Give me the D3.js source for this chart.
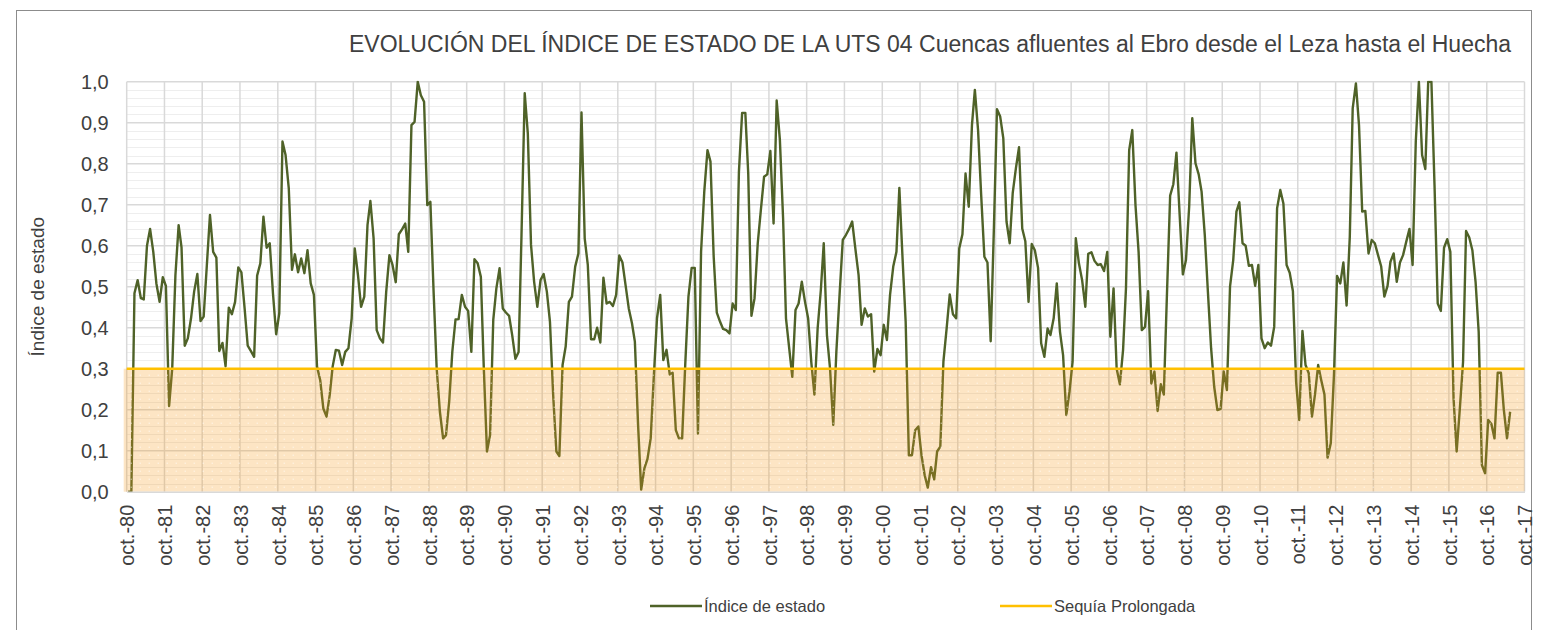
<!DOCTYPE html>
<html lang="es">
<head>
<meta charset="utf-8">
<title>Índice de estado UTS 04</title>
<script src="https://cdn.jsdelivr.net/npm/d3@7"></script>
<style>
  html, body { margin: 0; padding: 0; background: #fff; }
  svg { display: block; font-family: "Liberation Sans", Arial, sans-serif; }
</style>
</head>
<body>
<svg id="chart" width="1548" height="630"></svg>
<script>
(function () {
  'use strict';

  // --- datos -------------------------------------------------------------
  var titulo = 'EVOLUCIÓN DEL ÍNDICE DE ESTADO DE LA UTS 04 Cuencas afluentes al Ebro desde el Leza hasta el Huecha';
  var tituloEjeY = 'Índice de estado';
  var leyenda = ['Índice de estado', 'Sequía Prolongada'];

  var etiquetasX = [
    'oct.-80', 'oct.-81', 'oct.-82', 'oct.-83', 'oct.-84', 'oct.-85', 'oct.-86', 'oct.-87',
    'oct.-88', 'oct.-89', 'oct.-90', 'oct.-91', 'oct.-92', 'oct.-93', 'oct.-94', 'oct.-95',
    'oct.-96', 'oct.-97', 'oct.-98', 'oct.-99', 'oct.-00', 'oct.-01', 'oct.-02', 'oct.-03',
    'oct.-04', 'oct.-05', 'oct.-06', 'oct.-07', 'oct.-08', 'oct.-09', 'oct.-10', 'oct.-11',
    'oct.-12', 'oct.-13', 'oct.-14', 'oct.-15', 'oct.-16', 'oct.-17'
  ];
  var ticksY = [0, 0.1, 0.2, 0.3, 0.4, 0.5, 0.6, 0.7, 0.8, 0.9, 1.0];
  var umbralSequia = 0.3;

  // valores mensuales desde oct-1980
  var indiceEstado = [
    0, 0, 0.484, 0.516, 0.472, 0.469, 0.60, 0.641, 0.585, 0.508, 0.463, 0.523,
    0.502, 0.209, 0.30, 0.528, 0.650, 0.596, 0.356, 0.374, 0.423, 0.488, 0.531, 0.416,
    0.427, 0.553, 0.675, 0.585, 0.571, 0.343, 0.363, 0.306, 0.449, 0.433, 0.463, 0.547,
    0.535, 0.447, 0.356, 0.343, 0.329, 0.527, 0.557, 0.671, 0.595, 0.606, 0.484, 0.384,
    0.435, 0.854, 0.821, 0.740, 0.541, 0.579, 0.535, 0.569, 0.533, 0.589, 0.508, 0.48,
    0.305, 0.272, 0.203, 0.183, 0.236, 0.305, 0.346, 0.344, 0.309, 0.341, 0.35, 0.423,
    0.593, 0.528, 0.451, 0.476, 0.650, 0.709, 0.618, 0.394, 0.374, 0.364, 0.488, 0.577,
    0.553, 0.511, 0.628, 0.640, 0.654, 0.585, 0.894, 0.902, 1.0, 0.967, 0.951, 0.699,
    0.707, 0.488, 0.30, 0.195, 0.130, 0.138, 0.22, 0.341, 0.42, 0.421, 0.48, 0.451,
    0.441, 0.341, 0.567, 0.557, 0.524, 0.305, 0.098, 0.138, 0.419, 0.496, 0.545, 0.447,
    0.437, 0.429, 0.382, 0.324, 0.341, 0.626, 0.972, 0.874, 0.602, 0.512, 0.451, 0.516,
    0.531, 0.488, 0.415, 0.236, 0.098, 0.087, 0.309, 0.354, 0.463, 0.476, 0.549, 0.581,
    0.925, 0.618, 0.553, 0.372, 0.372, 0.40, 0.364, 0.522, 0.459, 0.463, 0.453, 0.48,
    0.576, 0.559, 0.504, 0.447, 0.411, 0.366, 0.163, 0.005, 0.057, 0.08, 0.13, 0.285,
    0.423, 0.48, 0.321, 0.346, 0.286, 0.29, 0.15, 0.13, 0.13, 0.31, 0.476, 0.546,
    0.546, 0.142, 0.585, 0.732, 0.833, 0.805, 0.573, 0.437, 0.415, 0.397, 0.394, 0.386,
    0.459, 0.443, 0.78, 0.924, 0.924, 0.776, 0.429, 0.472, 0.606, 0.687, 0.768, 0.774,
    0.831, 0.654, 0.954, 0.858, 0.667, 0.423, 0.35, 0.28, 0.443, 0.459, 0.512, 0.463,
    0.423, 0.315, 0.237, 0.398, 0.492, 0.606, 0.382, 0.30, 0.163, 0.341, 0.48, 0.614,
    0.626, 0.641, 0.659, 0.592, 0.528, 0.407, 0.447, 0.427, 0.433, 0.293, 0.348, 0.333,
    0.407, 0.37, 0.48, 0.549, 0.585, 0.741, 0.569, 0.415, 0.089, 0.089, 0.15, 0.159,
    0.089, 0.04, 0.01, 0.06, 0.03, 0.098, 0.11, 0.317, 0.398, 0.481, 0.433, 0.423,
    0.593, 0.628, 0.776, 0.695, 0.894, 0.98, 0.882, 0.724, 0.573, 0.559, 0.367, 0.642,
    0.933, 0.915, 0.862, 0.659, 0.606, 0.728, 0.789, 0.84, 0.642, 0.611, 0.463, 0.604,
    0.589, 0.546, 0.362, 0.329, 0.398, 0.382, 0.423, 0.508, 0.39, 0.333, 0.187, 0.244,
    0.317, 0.618, 0.557, 0.516, 0.451, 0.58, 0.584, 0.563, 0.553, 0.555, 0.538, 0.585,
    0.378, 0.496, 0.30, 0.262, 0.346, 0.496, 0.833, 0.882, 0.699, 0.585, 0.394, 0.402,
    0.489, 0.264, 0.293, 0.197, 0.262, 0.237, 0.488, 0.722, 0.75, 0.827, 0.675, 0.53,
    0.565, 0.695, 0.911, 0.801, 0.774, 0.732, 0.626, 0.488, 0.35, 0.256, 0.199, 0.202,
    0.293, 0.248, 0.50, 0.565, 0.683, 0.706, 0.606, 0.60, 0.551, 0.553, 0.502, 0.553,
    0.374, 0.35, 0.364, 0.356, 0.402, 0.691, 0.736, 0.703, 0.553, 0.534, 0.489, 0.268,
    0.175, 0.392, 0.309, 0.289, 0.183, 0.236, 0.309, 0.272, 0.237, 0.083, 0.118, 0.285,
    0.526, 0.508, 0.559, 0.454, 0.622, 0.935, 0.996, 0.894, 0.683, 0.685, 0.581, 0.614,
    0.606, 0.577, 0.55, 0.476, 0.502, 0.561, 0.581, 0.512, 0.559, 0.577, 0.61, 0.641,
    0.553, 0.854, 1.0, 0.821, 0.787, 1.0, 1.0, 0.748, 0.459, 0.441, 0.595, 0.616,
    0.585, 0.228, 0.098, 0.203, 0.317, 0.636, 0.62, 0.589, 0.512, 0.39, 0.065, 0.045,
    0.175, 0.165, 0.13, 0.29, 0.29, 0.2, 0.13, 0.195
  ];

  // --- geometría ---------------------------------------------------------
  var plot = { l: 126.7, r: 1524.5, t: 81.7, b: 491.7 };
  var FONT = 20;
  var TXT = '#404040';
  var GRID = '#d9d9d9', GRID_MINOR = '#eeeeee';
  var VERDE = '#4f6228', AMARILLO = '#ffc000';

  var svg = d3.select('#chart');

  var tickDates = etiquetasX.map(function (s, k) { return new Date(1980 + k, 9, 1); });
  var x = d3.scaleTime().domain([tickDates[0], tickDates[tickDates.length - 1]]).range([plot.l, plot.r]);
  var y = d3.scaleLinear().domain([0, 1]).range([plot.b, plot.t]);
  var puntos = indiceEstado.map(function (v, i) { return { d: new Date(1980, 9 + i, 15), v: v }; });

  var es = d3.formatLocale({ decimal: ',', thousands: '.', grouping: [3], currency: ['', ' €'] });
  var fmtY = es.format('.1f');

  // patrón de puntos blancos del relleno de sequía
  var defs = svg.append('defs');
  var pat = defs.append('pattern').attr('id', 'puntos')
    .attr('patternUnits', 'userSpaceOnUse').attr('width', 9).attr('height', 8)
    .attr('x', plot.l).attr('y', plot.b);
  pat.append('rect').attr('x', 4).attr('y', 3).attr('width', 1).attr('height', 1).attr('fill', '#fff');
  defs.append('clipPath').attr('id', 'clip-plot').append('rect')
    .attr('x', plot.l).attr('y', plot.t - 1).attr('width', plot.r - plot.l).attr('height', plot.b - plot.t + 2);

  // marco exterior
  svg.append('rect').attr('x', 16.5).attr('y', 10.5).attr('width', 1515).attr('height', 640)
    .attr('fill', '#fff').attr('stroke', '#8c8c8c').attr('stroke-width', 1);

  // rejilla
  var grid = svg.append('g').attr('class', 'grid');
  var minor = d3.range(0, 50).map(function (k) { return k / 50; }).filter(function (v) {
    return Math.abs(v * 10 - Math.round(v * 10)) > 1e-6;
  });
  grid.selectAll('line.minor').data(minor).enter().append('line')
    .attr('x1', plot.l).attr('x2', plot.r)
    .attr('y1', function (d) { return Math.round(y(d)) + 0.5; })
    .attr('y2', function (d) { return Math.round(y(d)) + 0.5; })
    .attr('stroke', GRID_MINOR).attr('stroke-width', 1);
  grid.selectAll('line.major').data(ticksY.slice(1)).enter().append('line')
    .attr('x1', plot.l).attr('x2', plot.r)
    .attr('y1', function (d) { return y(d); }).attr('y2', function (d) { return y(d); })
    .attr('stroke', GRID).attr('stroke-width', 1.5);
  grid.selectAll('line.vert').data(tickDates).enter().append('line')
    .attr('x1', function (d) { return x(d); }).attr('x2', function (d) { return x(d); })
    .attr('y1', plot.t).attr('y2', plot.b)
    .attr('stroke', GRID).attr('stroke-width', 1.5);

  // serie principal
  var linea = d3.line().x(function (p) { return x(p.d); }).y(function (p) { return y(p.v); });
  svg.append('path').datum(puntos).attr('d', linea)
    .attr('clip-path', 'url(#clip-plot)')
    .attr('fill', 'none').attr('stroke', VERDE).attr('stroke-width', 2.4)
    .attr('stroke-linejoin', 'round');

  // banda de sequía prolongada (0 – 0,3), semitransparente sobre la serie
  var banda = svg.append('g');
  banda.append('rect').attr('x', plot.l - 3).attr('y', y(umbralSequia))
    .attr('width', plot.r - plot.l + 3).attr('height', y(0) - y(umbralSequia))
    .attr('fill', '#f79713').attr('fill-opacity', 0.25);
  banda.append('rect').attr('x', plot.l - 3).attr('y', y(umbralSequia))
    .attr('width', plot.r - plot.l + 3).attr('height', y(0) - y(umbralSequia))
    .attr('fill', 'url(#puntos)').attr('opacity', 0.85);

  // línea umbral
  svg.append('line').attr('x1', plot.l).attr('x2', plot.r)
    .attr('y1', y(umbralSequia)).attr('y2', y(umbralSequia))
    .attr('stroke', AMARILLO).attr('stroke-width', 2.5);

  // eje Y
  var gy = svg.append('g').attr('transform', 'translate(' + plot.l + ',0)')
    .call(d3.axisLeft(y).tickValues(ticksY).tickFormat(fmtY).tickSize(0).tickPadding(18));
  gy.select('.domain').remove();
  gy.selectAll('text').attr('font-size', FONT).attr('fill', TXT).attr('font-family', null);

  // eje X
  var gx = svg.append('g').attr('transform', 'translate(0,' + plot.b + ')')
    .call(d3.axisBottom(x).tickValues(tickDates)
      .tickFormat(function (d, i) { return etiquetasX[i]; }).tickSize(0));
  gx.select('.domain').attr('stroke', GRID).attr('stroke-width', 1.5);
  gx.selectAll('text')
    .attr('font-size', FONT).attr('fill', TXT).attr('font-family', null)
    .attr('transform', 'rotate(-90)')
    .attr('text-anchor', 'end')
    .attr('x', -13).attr('y', 0).attr('dy', '0.36em');

  // título del eje Y
  svg.append('text').attr('transform', 'translate(44,' + ((plot.t + plot.b) / 2) + ') rotate(-90)')
    .attr('text-anchor', 'middle').attr('font-size', 19).attr('fill', TXT).text(tituloEjeY);

  // título
  svg.append('text').attr('x', 349).attr('y', 52)
    .attr('font-size', 23).attr('fill', TXT).text(titulo);

  // leyenda
  var ly = 606;
  var items = [
    { x: 650, color: VERDE, w: 2.4, label: leyenda[0] },
    { x: 1000, color: AMARILLO, w: 2.5, label: leyenda[1] }
  ];
  var lg = svg.append('g').selectAll('g').data(items).enter().append('g');
  lg.append('line').attr('x1', function (d) { return d.x; }).attr('x2', function (d) { return d.x + 52; })
    .attr('y1', ly).attr('y2', ly)
    .attr('stroke', function (d) { return d.color; }).attr('stroke-width', function (d) { return d.w; });
  lg.append('text').attr('x', function (d) { return d.x + 54; }).attr('y', ly).attr('dy', '0.35em')
    .attr('font-size', 16.5).attr('fill', TXT).text(function (d) { return d.label; });
})();
</script>
</body>
</html>
